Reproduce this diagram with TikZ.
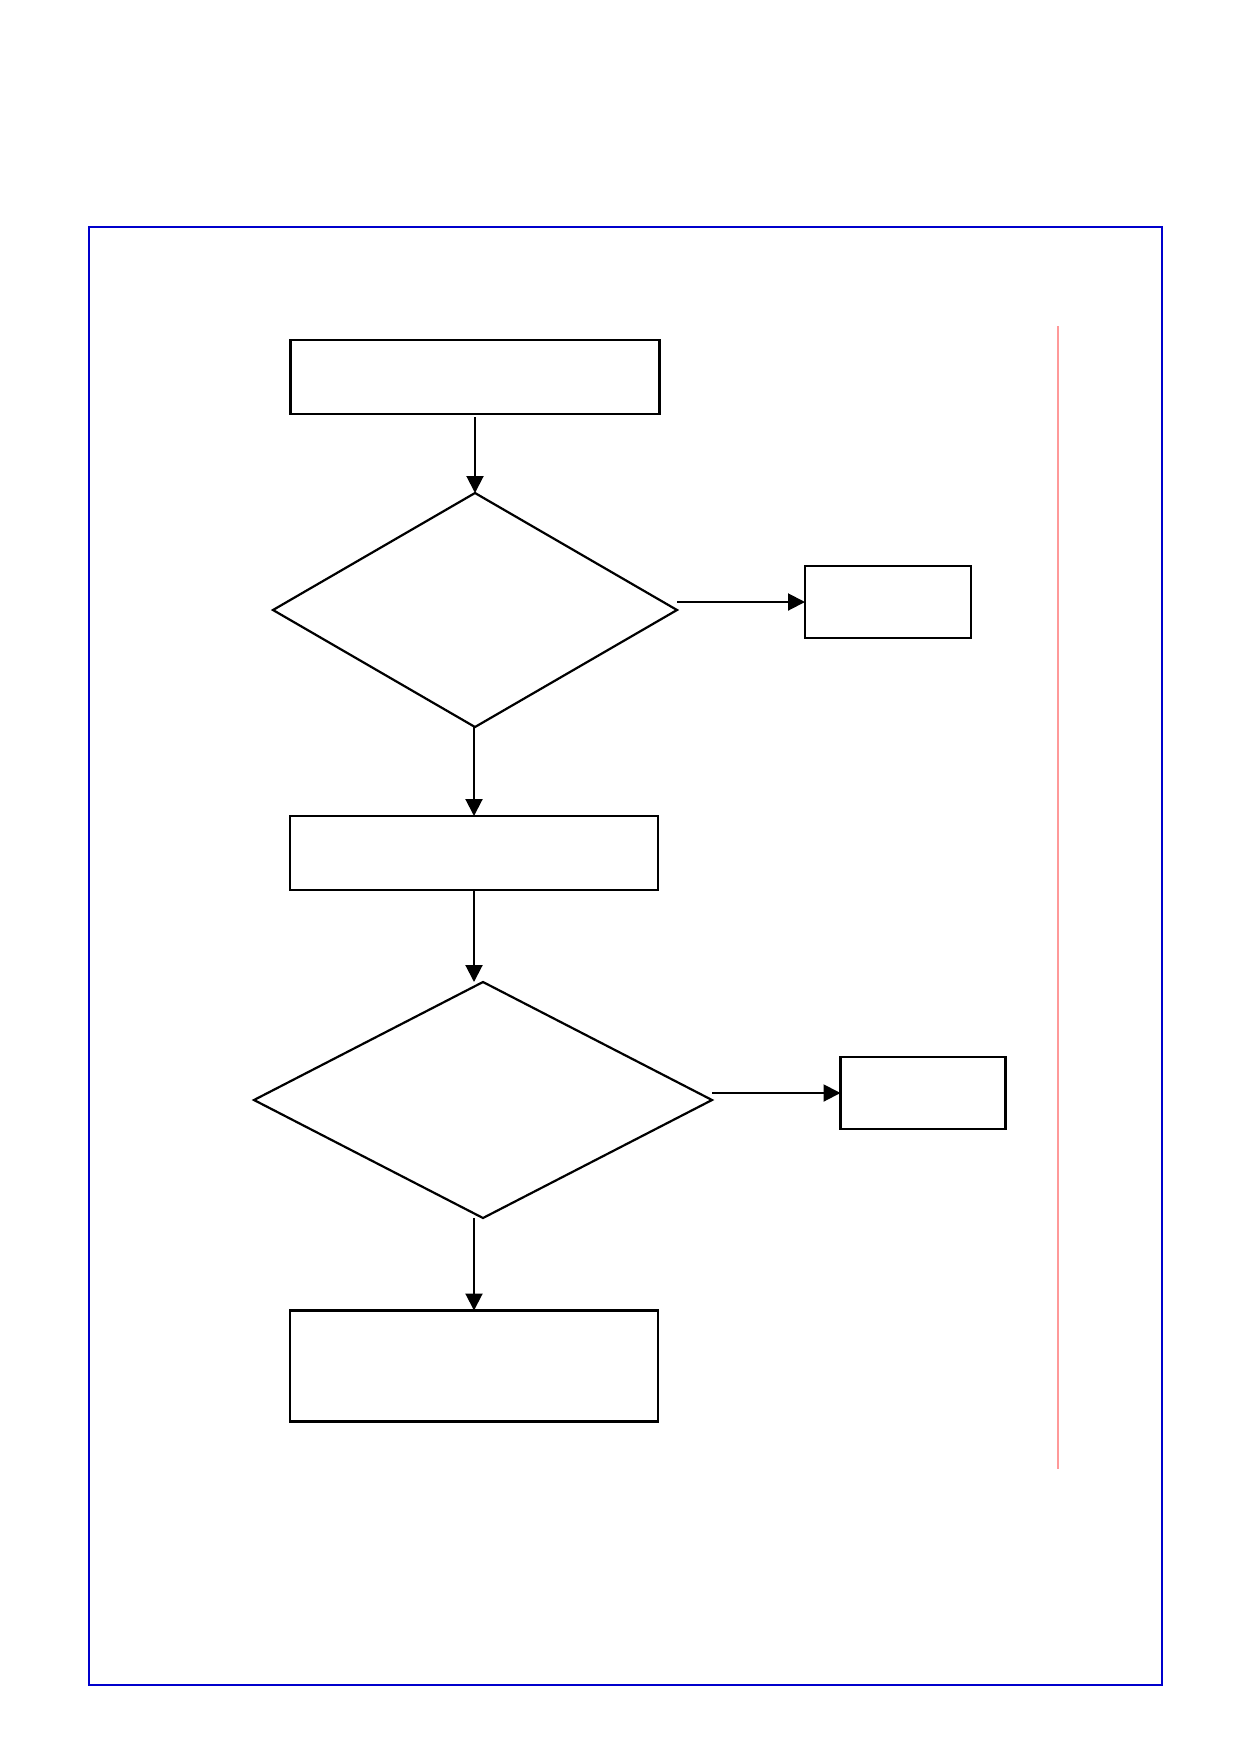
\documentclass[tikz,border=0pt]{standalone}
\usetikzlibrary{shapes.geometric,arrows.meta}
\tikzset{
  stepbox/.style={rectangle,draw,line width=2.2pt,inner sep=0pt,outer sep=0pt},
  decision/.style={diamond,draw,line width=2.2pt,inner sep=0pt,outer sep=0pt},
  flow/.style={-{Triangle[length=17pt,width=17pt]},line width=2pt}
}
\begin{document}
\begin{tikzpicture}[x=1pt,y=-1pt]
		\useasboundingbox (0,0) rectangle (1239,1754);
		\draw[blue!80!black,line width=2pt] (89,227) rectangle (1162,1685);
		\draw[red!40,line width=1.2pt] (1058,326) -- (1058,1469);
		\node[stepbox,minimum width=369pt,minimum height=74pt](start) at (475,377){};
		\node[decision,minimum width=404pt,minimum height=234pt](check1) at (475,610){};
		\node[stepbox,minimum width=166pt,minimum height=72pt](side1) at (888,602){};
		\node[stepbox,minimum width=368pt,minimum height=74pt](middle) at (474,853){};
		\node[decision,minimum width=458pt,minimum height=236pt](check2) at (483,1100){};
		\node[stepbox,minimum width=165pt,minimum height=72pt](side2) at (923,1093){};
		\node[stepbox,minimum width=368pt,minimum height=111pt](finish) at (474,1366){};
		\draw[flow,shorten <=3pt] (start) -- (check1);
		\draw[flow] (check1.east |- side1.west) -- (side1.west);
		\draw[flow] (middle.north |- check1.south) -- (middle.north);
		\draw[flow] (middle.south) -- (middle.south |- check2.north);
		\draw[flow] (check2.east |- side2.west) -- (side2.west);
		\draw[flow] (finish.north |- check2.south) -- (finish.north);
\end{tikzpicture}
\end{document}
